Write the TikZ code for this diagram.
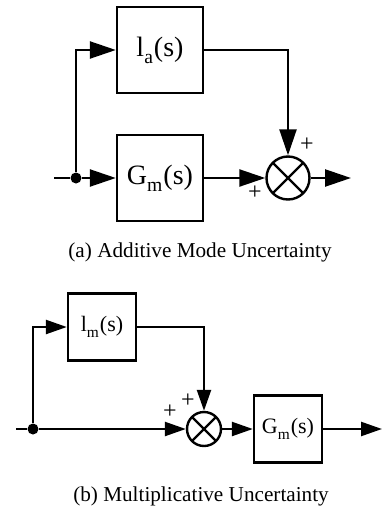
\documentclass[tikz,border=0pt]{standalone}
\usepackage{fontspec}
\setmainfont{Liberation Serif}
\usetikzlibrary{arrows.meta,positioning}
\newcommand{\lowsub}[1]{\textsubscript{\raisebox{-0.3ex}{#1}}}

\begin{document}
\begin{tikzpicture}[x=0.5pt,y=-0.5pt,
    wire/.style={line width=1.2pt},
    arra/.style={wire, -{Triangle[length=13pt,width=8.5pt]}},
    arrb/.style={wire, -{Triangle[length=10.5pt,width=7pt]}},
    blka/.style={draw, line width=1.2pt, minimum width=43pt, minimum height=43pt, inner sep=0pt, font=\fontsize{14}{16}\selectfont},
    blkb/.style={draw, line width=1.2pt, minimum width=34pt, minimum height=33.5pt, inner sep=0pt, font=\fontsize{11}{13}\selectfont},
    sumx/.style={circle, draw, line width=1.2pt, inner sep=0pt,
      path picture={\draw[line width=1.2pt] (path picture bounding box.north west) -- (path picture bounding box.south east)
        (path picture bounding box.north east) -- (path picture bounding box.south west);}},
    dot/.style={circle, fill, inner sep=0pt, minimum size=5.5pt},
    pls/.style={inner sep=0pt, font=\fontsize{12}{13}\selectfont},
    captxt/.style={inner sep=0pt, font=\fontsize{10.6}{12}\selectfont}]
  \useasboundingbox (0,0) rectangle (382,509);

  % --- (a) additive
  \node[blka] (la) at (160,50) {l\lowsub{a}(s)};
  \node[blka] (gma) at (160,178) {G\lowsub{m}(s)};
  \node[sumx, minimum size=21.5pt] (suma) at (288,178) {};
  \node[dot] (ja) at (76,178) {};
  \coordinate (ina) at (54,178);
  \coordinate (outa) at (351,178);
  \draw[wire] (ina) -- (ja);
  \draw[arra] (ja) -- (gma);
  \draw[arra] (ja) |- (la);
  \draw[arra] (gma) -- (suma);
  \draw[arra] (la) -| (suma);
  \draw[arra] (suma) -- (outa);
  \node[pls] (pa1) at (307,145) {+};
  \node[pls] (pa2) at (255,193) {+};
  \node[captxt] (capa) at (200,252) {(a) Additive Mode Uncertainty};

  % --- (b) multiplicative
  \node[blkb] (lm) at (102,327) {l\lowsub{m}(s)};
  \node[blkb] (gmb) at (288,429) {G\lowsub{m}(s)};
  \node[sumx, minimum size=17pt] (sumb) at (204,429) {};
  \node[dot] (jb) at (33,429) {};
  \coordinate (inb) at (16,429);
  \coordinate (outb) at (382,429);
  \draw[wire] (inb) -- (jb);
  \draw[arrb] (jb) -- (sumb);
  \draw[arrb] (jb) |- (lm);
  \draw[arrb] (lm) -| (sumb);
  \draw[arrb] (sumb) -- (gmb);
  \draw[arrb] (gmb) -- (outb);
  \node[pls] (pb1) at (170,412) {+};
  \node[pls] (pb2) at (188,401) {+};
  \node[captxt] (capb) at (201,496) {(b) Multiplicative Uncertainty};
\end{tikzpicture}
\end{document}
